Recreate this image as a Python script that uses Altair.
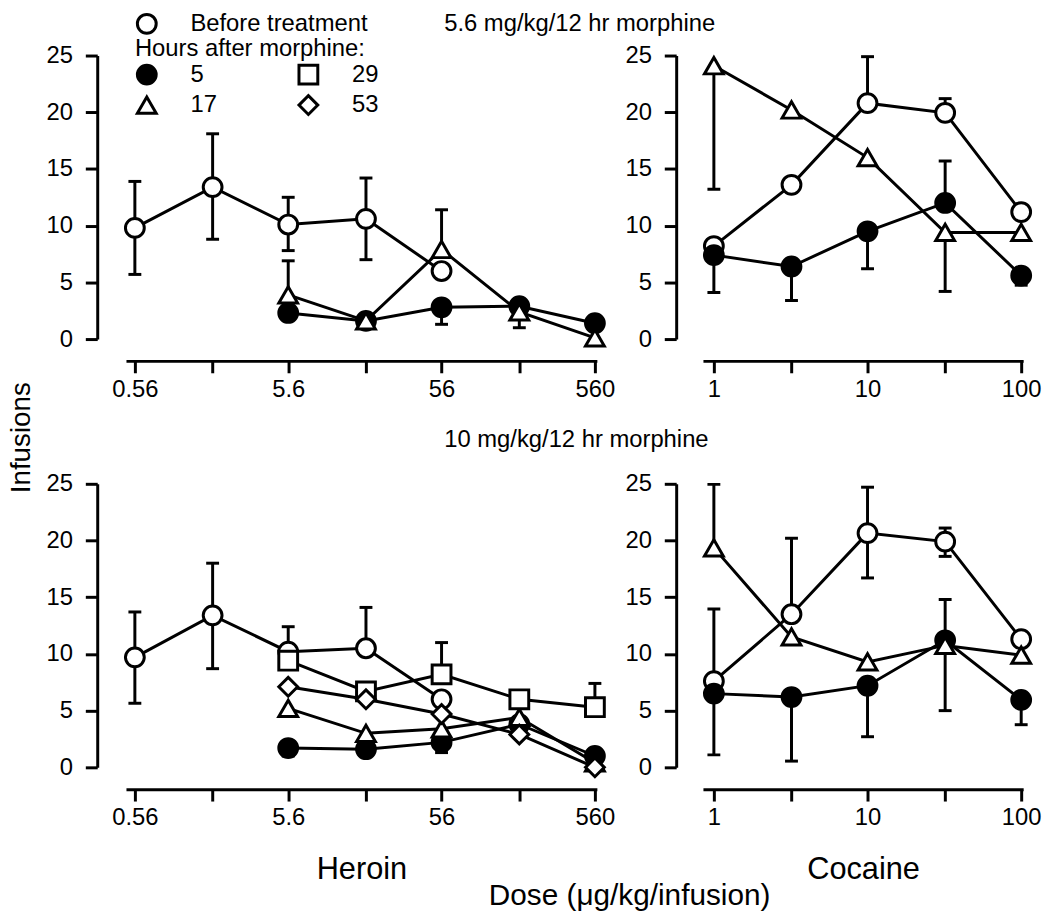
import altair as alt
import pandas as pd

FONT = "Liberation Sans"

HEROIN_DOSES = [0.56, 1.8, 5.6, 18, 56, 180, 560]
HEROIN_TICK_LABELS = ["0.56", "", "5.6", "", "56", "", "560"]
COCAINE_DOSES = [1, 3.2, 10, 32, 100]
COCAINE_TICK_LABELS = ["1", "", "10", "", "100"]
Y_TICKS = [0, 5, 10, 15, 20, 25]

BEFORE = "Before treatment"
HOURS = ["5", "17", "29", "53"]
HOUR_SHAPES = ["circle", "triangle-up", "square", "diamond"]
HOUR_FILLS = ["black", "white", "white", "white"]
HOUR_STROKES = ["black", "black", "black", "black"]

ROW_TITLES = ["5.6 mg/kg/12 hr morphine", "10 mg/kg/12 hr morphine"]
DRUG_TITLES = ["Heroin", "Cocaine"]
Y_TITLE = "Infusions"
X_TITLE = "Dose (\u03bcg/kg/infusion)"
LEGEND_SUBTITLE = "Hours after morphine:"

N = None
# ---- 5.6 mg/kg/12 hr morphine : heroin
TH_BEFORE = [9.8, 13.4, 10.1, 10.6, 6.0, N, N]
TH_BEFORE_HI = [13.9, 18.1, 12.5, 14.2, N, N, N]
TH_BEFORE_LO = [5.7, 8.8, 7.8, 7.0, N, N, N]
TH_5 = [N, N, 2.3, 1.6, 2.8, 2.9, 1.4]
TH_5_HI = [N, N, N, N, N, N, N]
TH_5_LO = [N, N, N, N, 1.3, N, N]
TH_17 = [N, N, 3.9, 1.6, 7.9, 2.4, 0.1]
TH_17_HI = [N, N, 6.9, N, 11.4, N, N]
TH_17_LO = [N, N, N, N, N, 1.0, N]

# ---- 5.6 mg/kg/12 hr morphine : cocaine
TC_BEFORE = [8.2, 13.6, 20.8, 19.95, 11.2]
TC_BEFORE_HI = [N, N, 24.9, 21.2, N]
TC_BEFORE_LO = [N, N, N, N, N]
TC_5 = [7.4, 6.4, 9.5, 12.0, 5.6]
TC_5_HI = [N, N, N, 15.7, N]
TC_5_LO = [4.1, 3.4, 6.2, N, 4.75]
TC_17 = [24.1, 20.2, 16.0, 9.4, 9.4]
TC_17_HI = [N, N, N, N, N]
TC_17_LO = [13.2, N, N, 4.2, N]

# ---- 10 mg/kg/12 hr morphine : heroin
BH_BEFORE = [9.7, 13.4, 10.2, 10.5, 6.0, N, N]
BH_BEFORE_HI = [13.7, 18.0, 12.4, 14.1, N, N, N]
BH_BEFORE_LO = [5.65, 8.7, N, N, N, N, N]
BH_5 = [N, N, 1.7, 1.6, 2.2, 3.8, 1.0]
BH_5_HI = [N, N, N, N, N, N, N]
BH_5_LO = [N, N, 1.0, N, 1.3, N, N]
BH_17 = [N, N, 5.2, 3.0, 3.4, 4.4, 0.4]
BH_17_HI = [N, N, N, N, N, N, N]
BH_17_LO = [N, N, N, N, N, N, N]
BH_29 = [N, N, 9.4, 6.7, 8.2, 6.0, 5.3]
BH_29_HI = [N, N, N, N, 11.0, N, 7.4]
BH_29_LO = [N, N, N, N, N, N, N]
BH_53 = [N, N, 7.1, 6.0, 4.7, 2.9, 0.0]
BH_53_HI = [N, N, N, N, N, N, N]
BH_53_LO = [N, N, N, N, N, N, N]

# ---- 10 mg/kg/12 hr morphine : cocaine
BC_BEFORE = [7.6, 13.5, 20.65, 19.9, 11.3]
BC_BEFORE_HI = [13.96, 20.2, 24.7, 21.1, N]
BC_BEFORE_LO = [N, N, 16.7, 18.6, N]
BC_5 = [6.5, 6.2, 7.2, 11.2, 5.95]
BC_5_HI = [N, N, N, 14.8, N]
BC_5_LO = [1.1, 0.55, 2.7, N, 3.76]
BC_17 = [19.35, 11.5, 9.3, 10.75, 9.9]
BC_17_HI = [24.95, N, N, N, N]
BC_17_LO = [N, N, N, 5.0, N]


def make_df(doses, series):
    rows = []
    for name, (vals, hi, lo) in series.items():
        for d, v, h, l in zip(doses, vals, hi, lo):
            if v is None:
                continue
            rows.append({"dose": d, "value": v, "hi": h, "lo": l, "series": name})
    return pd.DataFrame(rows)


def label_expr(doses, labels):
    parts = [f"datum.value == {d} ? '{l}'" for d, l in zip(doses, labels) if l]
    return " : ".join(parts) + " : ''"


def panel(df, doses, labels, xdomain, width, yoffset, xtitle=None, legend=False,
          ytitle=None, title=None):
    xaxis = alt.Axis(values=doses, labelExpr=label_expr(doses, labels), offset=22,
                     labelPadding=5, title=xtitle, titleFontSize=31, titlePadding=25)
    x = alt.X("dose:Q", scale=alt.Scale(type="log", domain=xdomain, nice=False), axis=xaxis)

    yaxis_kw = dict(values=Y_TICKS, offset=yoffset, title=ytitle)
    if ytitle:
        yaxis_kw.update(titleFontSize=28, titleX=-76, titleY=385, titleAngle=270,
                        titleAlign="center", titleBaseline="middle")
    yscale = alt.Scale(domain=[0, 25], nice=False, zero=False)

    def yenc(field):
        return alt.Y(f"{field}:Q", scale=yscale, axis=alt.Axis(**yaxis_kw))

    base = alt.Chart(df)
    layers = []
    for f in ["hi", "lo"]:
        sub = base.transform_filter(f"isValid(datum.{f})")
        layers.append(sub.mark_rule(strokeWidth=3, color="black").encode(
            x=x, y=yenc("value"), y2=f"{f}:Q"))
        layers.append(sub.mark_tick(orient="horizontal", size=13, thickness=3,
                                    color="black", opacity=1).encode(x=x, y=yenc(f)))
    layers.append(base.mark_line(color="black", strokeWidth=3).encode(
        x=x, y=yenc("value"), detail="series:N", order="dose:Q"))

    common = dict(labelFontSize=24, labelFont=FONT, labelColor="black", labelLimit=400,
                  labelOffset=32, symbolSize=360, symbolStrokeWidth=3,
                  symbolOpacity=1, padding=0)
    if legend:
        leg_before = alt.Legend(orient="none", legendX=9, legendY=-44, title=None, **common)
        leg_hours = alt.Legend(orient="none", legendX=9, legendY=-19, title=LEGEND_SUBTITLE,
                               titleFontSize=24, titleFont=FONT, titleFontWeight="normal",
                               titleColor="black", titlePadding=2, titleLimit=400,
                               columns=2, columnPadding=76, rowPadding=-1, **common)
    else:
        leg_before = None
        leg_hours = None

    before_pts = base.transform_filter(f"datum.series == '{BEFORE}'").mark_point(
        filled=True, size=360, strokeWidth=3, opacity=1).encode(
        x=x, y=yenc("value"),
        shape=alt.Shape("series:N", scale=alt.Scale(domain=[BEFORE], range=["circle"]),
                        legend=leg_before),
        fill=alt.Fill("series:N", scale=alt.Scale(domain=[BEFORE], range=["white"]),
                      legend=leg_before),
        stroke=alt.Stroke("series:N", scale=alt.Scale(domain=[BEFORE], range=["black"]),
                          legend=leg_before))
    hour_pts = base.transform_filter(f"datum.series != '{BEFORE}'").mark_point(
        filled=True, size=360, strokeWidth=3, opacity=1).encode(
        x=x, y=yenc("value"),
        shape=alt.Shape("series:N", scale=alt.Scale(domain=HOURS, range=HOUR_SHAPES),
                        legend=leg_hours),
        fill=alt.Fill("series:N", scale=alt.Scale(domain=HOURS, range=HOUR_FILLS),
                      legend=leg_hours),
        stroke=alt.Stroke("series:N", scale=alt.Scale(domain=HOURS, range=HOUR_STROKES),
                          legend=leg_hours))
    layers += [before_pts, hour_pts]
    props = dict(width=width, height=286)
    if title:
        props["title"] = title
    return alt.layer(*layers).properties(**props).resolve_scale(
        shape="independent", fill="independent", stroke="independent")


def row_title(text, offset, dx):
    return alt.TitleParams(text, fontSize=24, fontWeight="normal", font=FONT, color="black",
                           anchor="start", frame="group", baseline="middle",
                           offset=offset, dx=dx)


HEROIN_DOMAIN = [0.49, 576.8]
COCAINE_DOMAIN = [0.849, 103.0]

tl = panel(make_df(HEROIN_DOSES, {BEFORE: (TH_BEFORE, TH_BEFORE_HI, TH_BEFORE_LO),
                                  "5": (TH_5, TH_5_HI, TH_5_LO),
                                  "17": (TH_17, TH_17_HI, TH_17_LO)}),
           HEROIN_DOSES, HEROIN_TICK_LABELS, HEROIN_DOMAIN, 475, 29, legend=True,
           ytitle=Y_TITLE)
tr = panel(make_df(COCAINE_DOSES, {BEFORE: (TC_BEFORE, TC_BEFORE_HI, TC_BEFORE_LO),
                                   "5": (TC_5, TC_5_HI, TC_5_LO),
                                   "17": (TC_17, TC_17_HI, TC_17_LO)}),
           COCAINE_DOSES, COCAINE_TICK_LABELS, COCAINE_DOMAIN, 323, 27,
           title=row_title(ROW_TITLES[0], -4, -261))
bl = panel(make_df(HEROIN_DOSES, {BEFORE: (BH_BEFORE, BH_BEFORE_HI, BH_BEFORE_LO),
                                  "5": (BH_5, BH_5_HI, BH_5_LO),
                                  "17": (BH_17, BH_17_HI, BH_17_LO),
                                  "29": (BH_29, BH_29_HI, BH_29_LO),
                                  "53": (BH_53, BH_53_HI, BH_53_LO)}),
           HEROIN_DOSES, HEROIN_TICK_LABELS, HEROIN_DOMAIN, 475, 29, xtitle=DRUG_TITLES[0],
           title=row_title(ROW_TITLES[1], 8, 321))
br = panel(make_df(COCAINE_DOSES, {BEFORE: (BC_BEFORE, BC_BEFORE_HI, BC_BEFORE_LO),
                                   "5": (BC_5, BC_5_HI, BC_5_LO),
                                   "17": (BC_17, BC_17_HI, BC_17_LO)}),
           COCAINE_DOSES, COCAINE_TICK_LABELS, COCAINE_DOMAIN, 323, 27, xtitle=DRUG_TITLES[1])

chart = alt.concat(
    tl, tr, bl, br, columns=2, spacing={"row": 146, "column": 107}, bounds="flush",
    title=alt.TitleParams(X_TITLE, orient="bottom", fontSize=30, fontWeight="normal", font=FONT,
                          color="black", anchor="middle", frame="bounds", baseline="top",
                          offset=-3, dx=106),
).resolve_scale(shape="independent", fill="independent", stroke="independent").properties(
    padding=0
).configure_view(stroke=None).configure_axis(
    domainColor="black", domainWidth=3, tickColor="black", tickWidth=3, tickSize=12,
    labelFont=FONT, labelFontSize=24, labelColor="black", labelPadding=13, grid=False,
    titleFont=FONT, titleFontWeight="normal", titleColor="black"
).configure_legend(labelFont=FONT, titleFont=FONT)

chart.save("out.html", embed_options={"renderer": "svg", "actions": False})
